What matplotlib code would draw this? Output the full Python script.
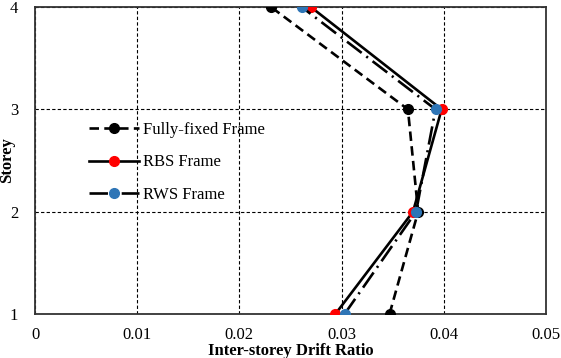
import matplotlib
matplotlib.use("Agg")
import matplotlib.pyplot as plt

plt.rcParams['font.family'] = ['Liberation Serif', 'DejaVu Serif']

storeys = [1, 2, 3, 4]
fixed = [0.0347, 0.0375, 0.0365, 0.0231]
rbs = [0.0294, 0.0370, 0.0398, 0.0270]
rws = [0.0303, 0.0373, 0.0392, 0.0261]
xticks = [0, 0.01, 0.02, 0.03, 0.04, 0.05]
xticklabels = ['0', '0.01', '0.02', '0.03', '0.04', '0.05']
yticks = [1, 2, 3, 4]

fig = plt.figure(figsize=(5.61, 3.58), dpi=100)
ax = fig.add_axes([0.0624, 0.1229, 0.9106, 0.8575])

lw = 1.9
ax.plot(fixed, storeys, color='black', lw=lw, linestyle=(0, (3.6, 2.0)),
        marker='o', markersize=7, markerfacecolor='black', markeredgecolor='black',
        label='Fully-fixed Frame', zorder=3)
ax.plot(rbs, storeys, color='black', lw=lw, linestyle='-',
        marker='o', markersize=7, markerfacecolor='#FF0000', markeredgecolor='#FF0000',
        label='RBS Frame', zorder=4)
ax.plot(rws, storeys, color='black', lw=lw, linestyle=(0, (7.0, 2.2, 0.8, 2.2)),
        marker='o', markersize=7, markerfacecolor='#2E75B6', markeredgecolor='#2E75B6',
        label='RWS Frame', zorder=5)

ax.set_xlim(0, 0.05)
ax.set_ylim(1, 4)
ax.set_xticks(xticks)
ax.set_xticklabels(xticklabels)
ax.set_yticks(yticks)
ax.tick_params(length=0, labelsize=12)
ax.tick_params(axis='x', pad=9)
ax.tick_params(axis='y', pad=12)

ax.grid(True, color='black', linestyle=(0, (3, 2)), linewidth=0.8)
ax.set_axisbelow(True)
for s in ax.spines.values():
    s.set_color('#333333')
    s.set_linewidth(1.3)

ax.set_xlabel('Inter-storey Drift Ratio', fontsize=12, fontweight='bold', labelpad=0)
ax.set_ylabel('Storey', fontsize=12, fontweight='bold')
ax.yaxis.set_label_coords(-0.040, 0.5)

leg = ax.legend(loc='upper left', bbox_to_anchor=(0.105, 0.626), frameon=False,
                fontsize=12, handlelength=3.0, handletextpad=0.25, labelspacing=1.0,
                borderpad=0, borderaxespad=0)

fig.savefig('out.png', dpi=100)
